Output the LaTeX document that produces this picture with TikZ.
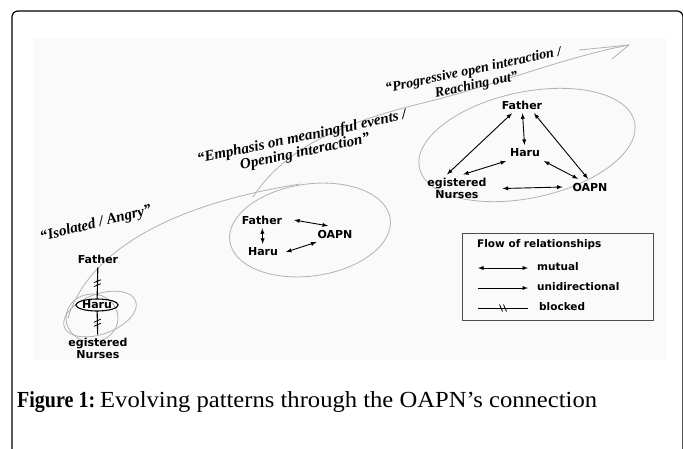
\documentclass[tikz,border=0pt]{standalone}
\usepackage{fontspec}
\usepackage{graphicx}
\setmainfont{Liberation Serif}
\setsansfont{DejaVu Sans}
\usetikzlibrary{shapes.geometric,decorations.markings}

\tikzset{
  lbl/.style={font=\sffamily\bfseries\fontsize{11}{11.5}\selectfont, align=center, inner sep=1pt, outer sep=3pt},
  phase/.style={font=\rmfamily\bfseries\itshape\fontsize{15}{15}\selectfont, align=center, inner sep=0pt, rotate=12},
  keytext/.style={font=\sffamily\bfseries\fontsize{10.5}{12}\selectfont, anchor=west, inner sep=0pt},
  mutual/.style={latex-latex, line width=0.9pt},
  oneway/.style={-latex, line width=0.9pt},
  blocked/.style={line width=1.1pt, postaction={decorate, decoration={markings,
    mark=at position 0.5 with {\draw[line width=0.8pt] (-0.5pt,-3.5pt) -- (-3.5pt,3.5pt) (3.5pt,-3.5pt) -- (0.5pt,3.5pt);}}}},
  trail/.style={draw=black!30, line width=0.8pt},
}

\begin{document}
\begin{tikzpicture}[x=1pt,y=-1pt]
\useasboundingbox (0,0) rectangle (683,448);

% Frame and photo

\draw[line width=1.2pt, rounded corners=6pt] (12,470) -- (12,11) -- (683,11) -- (683,470);
\fill[black!2] (33,38) rectangle (667,360);

% Growth trail

\coordinate (start) at (68,318);
\coordinate (mid) at (253,197);
\coordinate (tip) at (629,45);
\draw[trail] (start) .. controls (85,262) and (150,208) .. (300,184);
\draw[trail] (mid) .. controls (290,140) and (360,118) .. (435,100) .. controls (500,83) and (570,56) .. (tip);
\draw[trail] (579,50) -- (tip) -- (612,59);

\draw[trail, rotate around={20:(100,314)}] (100,314) ellipse [x radius=38pt, y radius=20pt];
\draw[trail] (92,318) ellipse [x radius=26pt, y radius=24pt];
\draw[trail, rotate around={8:(310,230)}] (310,230) ellipse [x radius=81pt, y radius=46pt];
\draw[trail, rotate around={12:(527,145)}] (527,145) ellipse [x radius=110pt, y radius=53pt];

% Stage 1

\node[phase, rotate=2] (isolated) at (96,224) {“Isolated / Angry”};
\node[lbl] (bF) at (98,259) {Father};
\node[lbl, draw, ellipse, line width=1.1pt, inner sep=0pt, outer sep=0pt, minimum width=42pt, minimum height=12pt] (bH) at (97,305) {Haru};
\node[lbl] (bN) at (98,348.5) {egistered\\Nurses};
\draw[blocked] (bF) -- (bH);
\draw[blocked] (bH) -- (bN);

% Stage 2

\node[phase] (emphasis) at (303.5,145) {“Emphasis on meaningful events /\\Opening interaction”};
\node[lbl] (mF) at (262,220) {Father};
\node[lbl] (mO) at (335,234) {OAPN};
\node[lbl] (mH) at (263,252) {Haru};
\draw[mutual] (mF) -- (mH);
\draw[mutual] ([xshift=8pt]mF.east) -- ([xshift=-7pt]mO.north);
\draw[mutual] ([xshift=4pt]mH.east) -- ([xshift=3pt]mO.south west);

% Stage 3

\node[phase, font=\rmfamily\bfseries\itshape\fontsize{14}{15}\selectfont] (progressive) at (475,78) {“Progressive open interaction /\\Reaching out”};
\node[lbl] (uF) at (522,105) {Father};
\node[lbl] (uH) at (525,153) {Haru};
\node[lbl] (uN) at (457,188.5) {egistered\\Nurses};
\node[lbl] (uO) at (590,187) {OAPN};
\draw[mutual] (uF) -- (uH);
\draw[mutual] ([xshift=-10pt]uF.south) -- ([xshift=-10pt]uN.north);
\draw[mutual] ([xshift=12pt]uF.south) -- ([xshift=-2pt]uO.north);
\draw[mutual] (uH.south west) -- ([xshift=6pt]uN.north);
\draw[mutual] (uH.south east) -- ([xshift=-12pt]uO.north);
\draw[mutual] ([xshift=12pt]uN.east) -- ([xshift=-6pt]uO.west);

% Legend

\node[draw=black!70, line width=1pt, minimum width=191pt, minimum height=87pt, inner sep=0pt] (legend) at (557.5,276.5) {};
\node[keytext] (keytitle) at (477,245) {Flow of relationships};
\coordinate (k1a) at (478,268); \coordinate (k1b) at (528,268);
\coordinate (k2a) at (478,288); \coordinate (k2b) at (528,288);
\coordinate (k3a) at (478,308); \coordinate (k3b) at (528,308);
\draw[mutual] (k1a) -- (k1b);
\draw[oneway] (k2a) -- (k2b);
\draw[blocked, line width=0.9pt] (k3a) -- (k3b);
\node[keytext] (k1) at (537,267) {mutual};
\node[keytext] (k2) at (537,287) {unidirectional};
\node[keytext] (k3) at (539,307) {blocked};

% Caption

\node[anchor=base west, font=\fontsize{23}{27}\selectfont, inner sep=0pt] (caption) at (17,407)
  {\scalebox{0.87}[1]{\textbf{Figure 1:}}\hspace{5pt}\scalebox{1.07}[1]{Evolving patterns through the OAPN’s connection}};

\end{tikzpicture}
\end{document}
